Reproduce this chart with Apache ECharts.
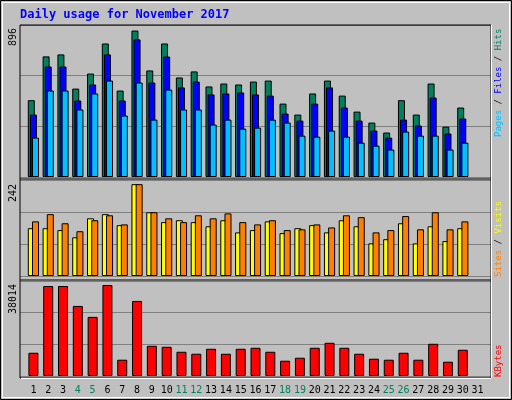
<!DOCTYPE html>
<html><head><meta charset="utf-8">
<script src="https://cdn.jsdelivr.net/npm/echarts@6/dist/echarts.min.js"></script>
<style>html,body{margin:0;padding:0;background:#c0c0c0}#c{width:512px;height:400px}</style>
</head><body><div id="c"></div>
<script>
const days = Array.from({length:31},(_,i)=>String(i+1));
const weekend = [4,5,11,12,18,19,25,26];
const hits  = [470,738,750,541,633,817,529,896,652,817,609,646,554,572,566,584,590,449,382,511,590,498,400,333,272,470,382,572,308,425,null];
const files = [382,676,676,468,566,750,468,842,578,737,548,584,505,511,517,505,498,388,345,449,548,425,345,284,241,351,315,486,266,358,null];
const pages = [241,529,529,413,511,590,376,578,351,535,413,413,321,351,296,302,351,333,253,247,284,247,210,192,168,278,253,253,168,210,null];
const sites = [126,126,121,102,152,163,134,242,168,142,147,142,131,147,115,121,144,113,126,134,115,147,131,86,97,139,86,131,92,126,null];
const visits= [144,163,139,118,147,160,136,242,168,152,142,160,152,165,142,136,147,121,123,136,128,160,155,115,121,158,123,168,123,144,null];
const kbytes= [9709,37588,37588,29266,24689,38014,6796,31347,12622,12206,10125,9293,11373,9293,11373,11790,10125,6380,7629,11790,13870,11790,9293,7212,6796,9709,6796,13454,5964,10957,null];
const maxLabels = ['896','242','38014'];
const axMax = [930,253,39679];

const panels = [{top:25,h:152},{top:180,h:96},{top:281,h:95}];
const grids=[], xAxes=[], yAxes=[];
panels.forEach((p,i)=>{
  grids.push({left:20,width:471,top:p.top,height:p.h});
  xAxes.push({gridIndex:2*i,type:'category',data:days,show:false});
  yAxes.push({gridIndex:2*i,min:0,max:axMax[i],interval:axMax[i]/3,axisLabel:{show:false},axisLine:{show:false},axisTick:{show:false},splitLine:{lineStyle:{color:'#808080',width:1}}});
  grids.push({left:26,width:459,top:p.top,height:p.h});
  xAxes.push({gridIndex:2*i+1,type:'category',data:days,axisLine:{show:false},axisTick:{show:false},
    axisLabel:{show:i===2,interval:0,margin:9,fontFamily:'DejaVu Sans Mono',fontSize:10,
      color:(v)=>weekend.includes(+v)?'#00805c':'#000000'}});
  yAxes.push({gridIndex:2*i+1,min:0,max:axMax[i],interval:axMax[i]/3,show:false,splitLine:{show:false}});
});
const bs = (name,data,color,ax,w,gap)=>({name,type:'bar',data,xAxisIndex:ax,yAxisIndex:ax,barWidth:w,barGap:gap,
  itemStyle:{color,borderColor:'#000',borderWidth:1},animation:false});
const series=[
  bs('Hits',hits,'#00805c',1,7,'-70%'),
  bs('Files',files,'#0000ff',1,7,'-70%'),
  bs('Pages',pages,'#00c0ff',1,7,'-70%'),
  bs('Sites',sites,'#ffff00',3,7,'-40%'),
  bs('Visits',visits,'#ff8000',3,7,'-40%'),
  bs('KBytes',kbytes,'#ff0000',5,10,'0%')
];
const f='DejaVu Sans Mono';
const fs='9px '+f;
const rot=(x,y,rich,parts)=>({type:'text',x,y,rotation:Math.PI/2,style:{text:parts,rich,font:fs,align:'left',verticalAlign:'middle'}});
const graphic=[
  {type:'rect',shape:{x:0.5,y:0.5,width:511,height:399},style:{fill:'none',stroke:'#000',lineWidth:1},z:-10},
  {type:'rect',shape:{x:2.5,y:2.5,width:507,height:395},style:{fill:'none',stroke:'#ffffff',lineWidth:1},z:-10},
  {type:'rect',shape:{x:20,y:25,width:471,height:353},style:{fill:'none',stroke:'#000',lineWidth:1},z:100},
  {type:'line',shape:{x1:20,y1:179,x2:491,y2:179},style:{stroke:'#000',lineWidth:1},z:100},
  {type:'line',shape:{x1:20,y1:280,x2:491,y2:280},style:{stroke:'#000',lineWidth:1},z:100},
  {type:'line',shape:{x1:21,y1:378.5,x2:491,y2:378.5},style:{stroke:'#fff',lineWidth:1},z:101},
  {type:'line',shape:{x1:491.5,y1:25,x2:491.5,y2:378},style:{stroke:'#fff',lineWidth:1},z:101},
  {type:'text',x:20,y:15,style:{text:'Daily usage for November 2017',font:'bold 12px '+f,fill:'#0000ff',verticalAlign:'middle'}},
  {type:'text',x:13,y:28,rotation:Math.PI/2,style:{text:maxLabels[0],font:'10px '+f,fill:'#000',align:'right',verticalAlign:'middle'}},
  {type:'text',x:13,y:184,rotation:Math.PI/2,style:{text:maxLabels[1],font:'10px '+f,fill:'#000',align:'right',verticalAlign:'middle'}},
  {type:'text',x:13,y:284,rotation:Math.PI/2,style:{text:maxLabels[2],font:'10px '+f,fill:'#000',align:'right',verticalAlign:'middle'}},
  rot(499,137,{p:{fill:'#00c0ff',font:fs},f:{fill:'#0000ff',font:fs},h:{fill:'#00805c',font:fs},s:{fill:'#000',font:fs}},'{p|Pages}{s| / }{f|Files}{s| / }{h|Hits}'),
  rot(499,277,{a:{fill:'#ff8000',font:fs},b:{fill:'#ffff00',font:fs},s:{fill:'#000',font:fs}},'{a|Sites}{s| / }{b|Visits}'),
  rot(499,377,{k:{fill:'#ff0000',font:fs}},'{k|KBytes}')
];
const chart=echarts.init(document.getElementById('c'));
chart.setOption({backgroundColor:'#c0c0c0',animation:false,grid:grids,xAxis:xAxes,yAxis:yAxes,series,graphic});
</script></body></html>
